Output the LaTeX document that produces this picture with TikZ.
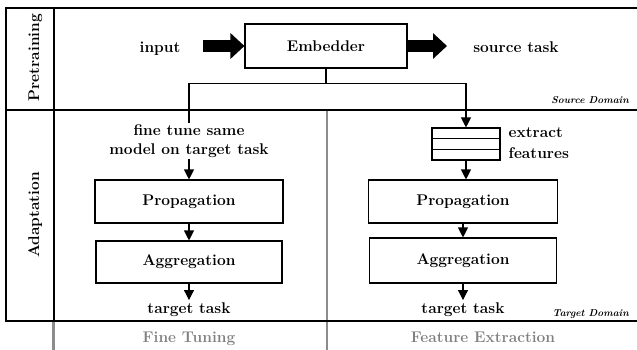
\documentclass[tikz,border=0pt]{standalone}
\usetikzlibrary{arrows.meta,calc}
\begin{document}
\begin{tikzpicture}[x=1pt,y=-1pt,
  txt/.style={font=\fontsize{15.5}{18.6}\selectfont\bfseries, inner sep=2pt, align=center},
  blk/.style={txt, draw, line width=1.1pt, inner sep=0pt},
  thin/.style={line width=1.1pt},
  arr/.style={line width=1.1pt, -{Triangle[length=10pt,width=10pt]}},
  big/.style={line width=12pt, -{Triangle[length=14pt,width=25pt]}},
  frame/.style={line width=2pt},
  sep/.style={line width=2.8pt, black!45},
  dom/.style={font=\fontsize{10}{12}\selectfont\bfseries\itshape, inner sep=0pt},
  col/.style={txt, text=black!50},
]
\useasboundingbox (0,0) rectangle (637,350);

% grey column separators
\draw[sep] (327,110.5) -- (327,350);
\draw[sep] (53.5,321) -- (53.5,350);

% outer frame and row/column rules
\draw[frame] (637,8.5) -- (6,8.5) -- (6,321) -- (637,321);
\draw[frame] (6,110.5) -- (637,110.5);
\draw[frame] (53.5,8.5) -- (53.5,321);

% row labels
\node[txt, rotate=90, anchor=base] (lpre) at (39,57.5) {Pretraining};
\node[txt, rotate=90, anchor=base] (lada) at (39,215) {Adaptation};

% pretraining row
\node[blk, minimum width=162pt, minimum height=44pt] (emb) at (326,46) {Embedder};
\node[txt, anchor=base] (in) at (160,53) {input};
\node[txt, anchor=base] (src) at (516,53) {source task};
\coordinate (inTail) at (203,46);
\coordinate (outTip) at (447,46);
\draw[big] (inTail) -- (emb.west);
\draw[big] (emb.east) -- (outTip);
\node[dom, anchor=base east] (sdom) at (629,104) {Source Domain};

% fine tuning column
\node[txt] (ft) at (189,141) {fine tune same\\model on target task};
\node[blk, minimum width=188pt, minimum height=43pt] (p1) at (189,201.5) {Propagation};
\node[blk, minimum width=186pt, minimum height=42pt] (a1) at (189,262) {Aggregation};
\node[txt, anchor=base] (t1) at (189,313) {target task};

% feature extraction column
\node[draw, thin, minimum width=68pt, minimum height=32pt, inner sep=0pt] (fe) at (466,144) {};
\draw[thin] ($(fe.north west)!1/3!(fe.south west)$) -- ($(fe.north east)!1/3!(fe.south east)$);
\draw[thin] ($(fe.north west)!2/3!(fe.south west)$) -- ($(fe.north east)!2/3!(fe.south east)$);
\node[txt, align=left, anchor=west] (fel) at (506.5,143) {extract\\[2.4pt]features};
\node[blk, minimum width=189pt, minimum height=43pt] (p2) at (463,201.5) {Propagation};
\node[blk, minimum width=187pt, minimum height=45pt] (a2) at (463,260.5) {Aggregation};
\node[txt, anchor=base] (t2) at (463,313) {target task};
\node[dom, anchor=base east] (tdom) at (629,316) {Target Domain};

% column captions
\node[col, anchor=base] (cft) at (189,342.7) {Fine Tuning};
\node[col, anchor=base] (cfe) at (483,342.7) {Feature Extraction};

% connectors
\draw[thin] (emb.south) -- ++(0,15) coordinate (split);
\draw[thin] (split) -| (ft.north);
\draw[arr] (split) -| (fe.north);
\draw[arr] (ft.south) -- (p1.north);
\draw[arr] (p1.south) -- (a1.north);
\draw[arr] (a1.south) -- (t1.north);
\draw[arr] (fe.south) -- (fe.south |- p2.north);
\draw[arr] (p2.south) -- (a2.north);
\draw[arr] (a2.south) -- (t2.north);
\end{tikzpicture}
\end{document}
